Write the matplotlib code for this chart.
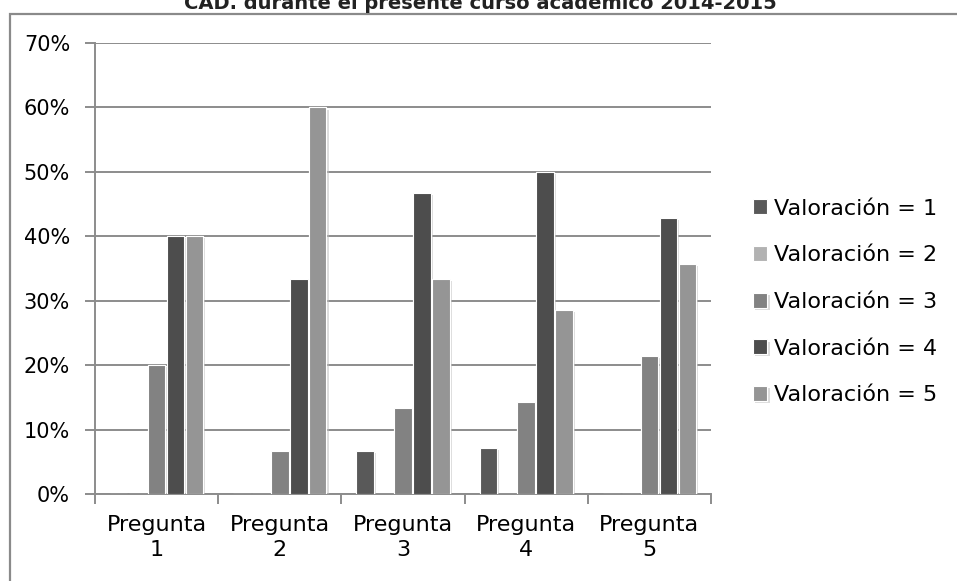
import numpy as np
import matplotlib
matplotlib.use("Agg")
import matplotlib.pyplot as plt
from matplotlib.patches import Rectangle
from matplotlib import patheffects
from matplotlib.ticker import FuncFormatter, FixedLocator

# Data (percent of answers per rating)
preguntas = ["Pregunta\n1", "Pregunta\n2", "Pregunta\n3", "Pregunta\n4", "Pregunta\n5"]
series_names = ["Valoración = 1", "Valoración = 2", "Valoración = 3",
                "Valoración = 4", "Valoración = 5"]
val_1 = [0, 0, 6.67, 7.14, 0]
val_2 = [0, 0, 0, 0, 0]
val_3 = [20, 6.67, 13.33, 14.29, 21.43]
val_4 = [40, 33.33, 46.67, 50, 42.86]
val_5 = [40, 60, 33.33, 28.57, 35.71]
titulo = "CAD. durante el presente curso académico 2014-2015"

colores = ["#595959", "#b2b2b2", "#828282", "#4d4d4d", "#959595"]

fig = plt.figure(figsize=(9.57, 5.81), dpi=100)
ax = fig.add_axes([95 / 957, 1 - 494 / 581, (711 - 95) / 957, (494 - 43) / 581])

# outer chart frame (cut by the image edge on right and bottom)
fig.patches.append(Rectangle((10 / 957, -0.1), 1.2, 1.1 - 14 / 581,
                             transform=fig.transFigure, fill=False,
                             edgecolor="#8a8a8a", linewidth=1.6))

# title, partly cut off at the top like in the original
fig.text(480 / 957, 1 - 9 / 581, titulo, ha="center", va="baseline",
         fontsize=14, fontweight="bold", color="#222222")

x = np.arange(len(preguntas))
paso = 0.154
ancho = 0.142
sombra = [patheffects.withSimplePatchShadow(offset=(1.5, -1.5), shadow_rgbFace="#bbbbbb", alpha=0.5),
          patheffects.Normal()]
for i, (vals, nombre) in enumerate(zip([val_1, val_2, val_3, val_4, val_5], series_names)):
    barras = ax.bar(x + (i - 2) * paso, vals, width=ancho, color=colores[i],
                    edgecolor="white", linewidth=0.8, label=nombre, zorder=3)
    for b in barras:
        if b.get_height() > 0:
            b.set_path_effects(sombra)

ax.set_xlim(-0.5, len(preguntas) - 0.5)
ax.set_ylim(0, 70)
ax.yaxis.set_major_locator(FixedLocator(np.arange(0, 71, 10)))
ax.yaxis.set_major_formatter(FuncFormatter(lambda v, p: f"{int(v)}%"))
ax.grid(axis="y", color="#8c8c8c", linewidth=1.4, zorder=0)

# category boundary ticks and centred labels
ax.set_xticks(np.arange(-0.5, len(preguntas), 1))
ax.set_xticklabels([])
ax.set_xticks(x, minor=True)
ax.set_xticklabels(preguntas, minor=True, fontsize=16, linespacing=1.3)
ax.tick_params(axis="x", which="major", length=7, width=1.4, color="#8c8c8c")
ax.tick_params(axis="x", which="minor", length=0, pad=15)
ax.tick_params(axis="y", length=7, width=1.4, color="#8c8c8c", labelsize=15, pad=11)

for lado in ["top", "right"]:
    ax.spines[lado].set_visible(False)
for lado in ["left", "bottom"]:
    ax.spines[lado].set_color("#8c8c8c")
    ax.spines[lado].set_linewidth(1.4)

ax.legend(loc="center left", bbox_to_anchor=(753 / 957, 1 - 302 / 581),
          bbox_transform=fig.transFigure, frameon=False, fontsize=16,
          handlelength=0.65, handleheight=0.65, handletextpad=0.3,
          labelspacing=1.2, borderaxespad=0, borderpad=0)

fig.savefig("out.png", dpi=100)
